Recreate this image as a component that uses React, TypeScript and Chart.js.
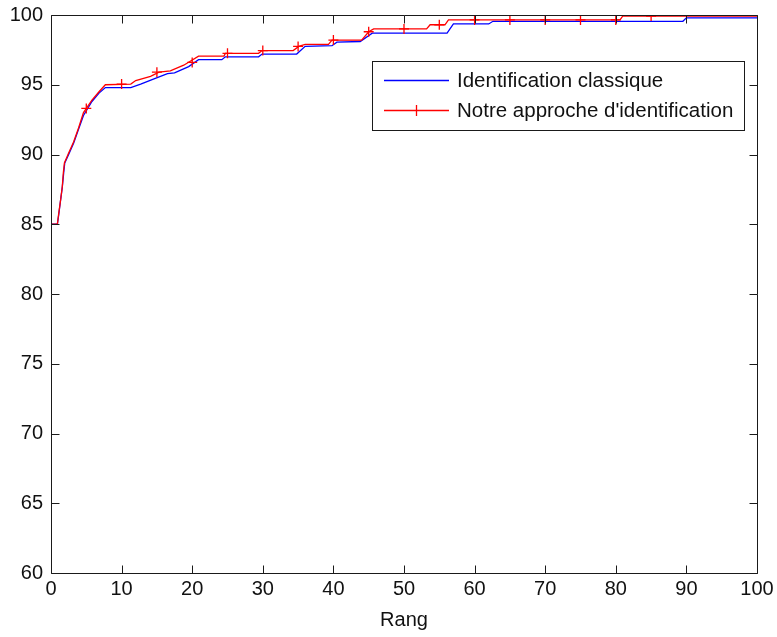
import React, { useEffect, useRef } from "react";
import { Chart, registerables } from "chart.js";

Chart.register(...registerables);

// Breakpoints (rank, recognition rate %)
const rankBlue = [0, 0.9, 1.1, 1.35, 1.6, 1.8, 1.95, 2.5, 3.2, 3.9, 4.6, 5.8, 6.8, 7.7, 11.3, 12.7, 14.5, 16.5, 17.5, 19.5, 20.9, 24.2, 24.7, 29.4, 29.9, 34.8, 36, 39.8, 40.5, 43.8, 45.5, 56.1, 57, 62, 62.6, 89.5, 90, 100];
const valueBlue = [85, 85, 85.7, 86.7, 87.65, 88.7, 89.4, 90.0, 90.8, 91.8, 92.8, 93.8, 94.4, 94.8, 94.8, 95.05, 95.4, 95.8, 95.85, 96.3, 96.8, 96.8, 97.0, 97.0, 97.2, 97.2, 97.75, 97.8, 98.05, 98.1, 98.7, 98.7, 99.36, 99.36, 99.55, 99.55, 99.8, 99.8];

const rankRed = [0, 0.9, 1.1, 1.35, 1.6, 1.75, 1.9, 2.5, 3.2, 3.9, 4.6, 5.8, 6.8, 7.7, 11.3, 12, 14.1, 15.3, 16.9, 18.8, 20.9, 24.5, 24.7, 29.4, 29.9, 34.3, 35.1, 36, 39.3, 39.8, 44, 45, 45.7, 53.2, 53.7, 55.8, 56.3, 80.6, 81, 100];
const valueRed = [85, 85, 85.8, 86.7, 87.7, 88.7, 89.4, 90.1, 90.9, 91.9, 93.0, 93.9, 94.5, 95.0, 95.05, 95.3, 95.6, 95.9, 96.0, 96.4, 97.05, 97.05, 97.25, 97.25, 97.45, 97.45, 97.75, 97.9, 97.9, 98.2, 98.2, 98.8, 99.0, 99.0, 99.3, 99.3, 99.65, 99.65, 99.93, 99.93];

const markerRanks = [5, 10, 15, 20, 25, 30, 35, 40, 45, 50, 55, 60, 65, 70, 75, 80, 85];
const markerValues = [93.3, 95.05, 95.9, 96.6, 97.25, 97.45, 97.75, 98.2, 98.8, 99.0, 99.3, 99.65, 99.65, 99.65, 99.65, 99.65, 99.93];

const xTickValues = [0, 10, 20, 30, 40, 50, 60, 70, 80, 90, 100];
const yTickValues = [60, 65, 70, 75, 80, 85, 90, 95, 100];

const labelBlue = "Identification classique";
const labelRed = "Notre approche d'identification";
const xTitle = "Rang";

const FONT = '"Liberation Sans", Arial, sans-serif';
const AXIS_COLOR = "#1a1a1a";

const matlabPlugin = {
  id: "matlabBox",
  afterDatasetsDraw(chart: any) {
    const { ctx, chartArea } = chart;
    const { left, right, top, bottom } = chartArea;
    const xs = chart.scales.x;
    const ys = chart.scales.y;
    const tl = 8;
    ctx.save();
    ctx.strokeStyle = AXIS_COLOR;
    ctx.lineWidth = 1;
    const L = Math.round(left) + 0.5;
    const R = Math.round(right) + 0.5;
    const T = Math.round(top) + 0.5;
    const B = Math.round(bottom) + 0.5;
    ctx.beginPath();
    ctx.rect(L, T, R - L, B - T);
    xs.ticks.forEach((t: any) => {
      const px = Math.round(xs.getPixelForValue(t.value)) + 0.5;
      ctx.moveTo(px, B);
      ctx.lineTo(px, B - tl);
      ctx.moveTo(px, T);
      ctx.lineTo(px, T + tl);
    });
    ys.ticks.forEach((t: any) => {
      const py = Math.round(ys.getPixelForValue(t.value)) + 0.5;
      ctx.moveTo(L, py);
      ctx.lineTo(L + tl, py);
      ctx.moveTo(R, py);
      ctx.lineTo(R - tl, py);
    });
    ctx.stroke();

    // Legend (MATLAB style, inside plot, north-east)
    const ds = chart.data.datasets;
    const items = [ds[0], ds[1]];
    ctx.font = `20.5px ${FONT}`;
    const maxW = Math.max(...items.map((d: any) => ctx.measureText(d.label).width));
    const boxRight = Math.round(right) - 13;
    const boxTop = Math.round(top) + 46;
    const boxW = Math.round(85 + maxW + 11);
    const boxH = 69;
    const boxLeft = boxRight - boxW;
    ctx.fillStyle = "#ffffff";
    ctx.fillRect(boxLeft, boxTop, boxW, boxH);
    ctx.strokeStyle = AXIS_COLOR;
    ctx.strokeRect(boxLeft + 0.5, boxTop + 0.5, boxW, boxH);
    items.forEach((d: any, i: number) => {
      const y = boxTop + 19 + i * 30;
      ctx.strokeStyle = d.borderColor;
      ctx.lineWidth = 1.3;
      ctx.beginPath();
      ctx.moveTo(boxLeft + 12, y + 0.5);
      ctx.lineTo(boxLeft + 77, y + 0.5);
      if (d.legendMarker) {
        const cx = boxLeft + 44.5;
        ctx.moveTo(cx, y - 5);
        ctx.lineTo(cx, y + 6);
      }
      ctx.stroke();
      ctx.fillStyle = "#111";
      ctx.textBaseline = "middle";
      ctx.textAlign = "left";
      ctx.fillText(d.label, boxLeft + 85, y + 1);
    });
    ctx.restore();
  },
};

export default function App() {
  const ref = useRef<HTMLCanvasElement | null>(null);
  useEffect(() => {
    if (!ref.current) return;
    const chart = new Chart(ref.current, {
      type: "line",
      data: {
        datasets: [
          {
            label: labelBlue,
            data: rankBlue.map((x, i) => ({ x, y: valueBlue[i] })),
            borderColor: "#0000ff",
            borderWidth: 1.3,
            pointRadius: 0,
            fill: false,
            tension: 0,
            order: 2,
          } as any,
          {
            label: labelRed,
            data: rankRed.map((x, i) => ({ x, y: valueRed[i] })),
            borderColor: "#ff0000",
            borderWidth: 1.3,
            pointRadius: 0,
            fill: false,
            tension: 0,
            order: 1,
            legendMarker: true,
          } as any,
          {
            label: "markers",
            data: markerRanks.map((x, i) => ({ x, y: markerValues[i] })),
            borderColor: "#ff0000",
            backgroundColor: "#ff0000",
            showLine: false,
            pointStyle: "cross",
            pointRadius: 5,
            pointBorderWidth: 1.3,
            order: 0,
          } as any,
        ],
      },
      options: {
        animation: false,
        responsive: true,
        maintainAspectRatio: false,
        layout: { padding: { top: 15, right: 20, left: 0, bottom: 0 } },
        plugins: { legend: { display: false }, tooltip: { enabled: false } },
        scales: {
          x: {
            type: "linear",
            min: 0,
            max: 100,
            afterBuildTicks: (s: any) => {
              s.ticks = xTickValues.map((v) => ({ value: v }));
            },
            afterFit: (s: any) => {
              s.height = 64;
              s.paddingLeft = 0;
              s.paddingRight = 0;
            },
            grid: { display: false, drawTicks: false },
            border: { display: false },
            ticks: {
              color: "#111",
              font: { family: FONT, size: 20 },
              padding: 4,
              maxRotation: 0,
              autoSkip: false,
            },
            title: {
              display: true,
              text: xTitle,
              color: "#111",
              font: { family: FONT, size: 20 },
              padding: { top: 0, bottom: 5 },
            },
          },
          y: {
            type: "linear",
            min: 60,
            max: 100,
            afterBuildTicks: (s: any) => {
              s.ticks = yTickValues.map((v) => ({ value: v }));
            },
            afterFit: (s: any) => {
              s.width = 51;
              s.paddingTop = 0;
              s.paddingBottom = 0;
            },
            grid: { display: false, drawTicks: false },
            border: { display: false },
            ticks: {
              color: "#111",
              font: { family: FONT, size: 20 },
              padding: 8,
              autoSkip: false,
            },
          },
        },
      },
      plugins: [matlabPlugin],
    });
    return () => chart.destroy();
  }, []);
  return (
    <div style={{ position: "fixed", left: 0, top: 0, width: 777, height: 637, background: "#fff" }}>
      <canvas ref={ref} />
    </div>
  );
}
